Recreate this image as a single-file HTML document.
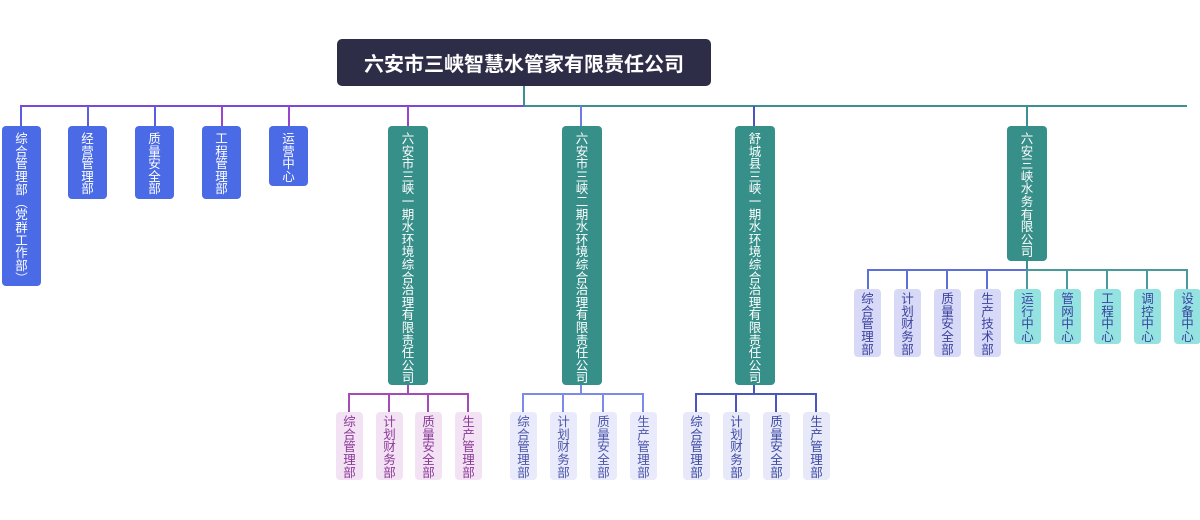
<!DOCTYPE html>
<html><head><meta charset="utf-8"><style>
body{margin:0;width:1200px;height:520px;background:#fff;position:relative;overflow:hidden;font-family:"Liberation Sans","Noto Sans CJK SC",sans-serif}
.b{position:absolute;box-sizing:border-box;border-radius:4px;font-size:12.5px;line-height:12.6px;text-align:center;padding-top:6px;overflow:hidden;font-family:"Noto Sans CJK SC",sans-serif}
.b span{display:inline-block;width:14px;word-break:break-all;white-space:normal}
.L1{background:#4a6ae6;color:#fff}
.T{background:#378f8a;color:#fff}
.c{font-size:12.5px;line-height:12.7px;padding-top:3px}
.c1{background:#f3e2f4;color:#8a3a96}
.c2{background:#e9eafb;color:#4a55a8}
.c3{background:#e7e9f8;color:#3e4aa6}
.c4{background:#d8d9f7;color:#3a43a0}
.c5{background:#94e3e0;color:#3a43a0}
svg{position:absolute;left:0;top:0}
</style></head><body>
<svg width="1200" height="520" fill="none" stroke-width="2">
<line x1="524" y1="86" x2="524" y2="106" stroke="#3d8f96"/>
<line x1="20" y1="106" x2="524" y2="106" stroke="#7a4ad6"/>
<line x1="524" y1="106" x2="1187" y2="106" stroke="#3d8f96"/>
<g stroke="#5b5ee0">
<line x1="21" y1="106" x2="21" y2="126"/><line x1="88" y1="106" x2="88" y2="126"/><line x1="155" y1="106" x2="155" y2="126"/>
</g>
<g stroke="#9a44d0"><line x1="222" y1="106" x2="222" y2="126"/><line x1="289" y1="106" x2="289" y2="126"/><line x1="408" y1="106" x2="408" y2="126"/></g>
<line x1="581" y1="106" x2="581" y2="126" stroke="#6d7be8"/>
<line x1="754" y1="106" x2="754" y2="126" stroke="#4a55c0"/>
<line x1="1027" y1="106" x2="1027" y2="126" stroke="#3d8f96"/>
<g stroke="#a54bb5"><line x1="408" y1="385" x2="408" y2="394"/><path d="M349 412V394H468V412M389 394V412M428 394V412"/></g>
<g stroke="#7c8ae8"><line x1="581" y1="385" x2="581" y2="394"/><path d="M523 412V394H643V412M563 394V412M603 394V412"/></g>
<g stroke="#4a55c0"><line x1="754" y1="385" x2="754" y2="394"/><path d="M696 412V394H816V412M736 394V412M776 394V412"/></g>
<line x1="1027" y1="261" x2="1027" y2="270" stroke="#3d8f96"/>
<path d="M868 289V270H1027M907 270V289M947 270V289M987 270V289" stroke="#5d6fd8"/>
<path d="M1027 270H1187V289M1027 270V289M1067 270V289M1107 270V289M1147 270V289" stroke="#4a9a9a"/>
</svg>
<div style="position:absolute;left:337px;top:39px;width:374px;height:47px;background:#2e2d47;border-radius:5px;color:#fff;font-size:20px;font-weight:bold;display:flex;align-items:center;justify-content:center">六安市三峡智慧水管家有限责任公司</div>
<div class="b L1" style="left:2px;top:126px;width:39px;height:160px;line-height:12.7px">综<br>合<br>管<br>理<br>部<br>︵<br>党<br>群<br>工<br>作<br>部<br>︶</div>
<div class="b L1" style="left:68px;top:126px;width:39px;height:73px"><span>经营管理部</span></div>
<div class="b L1" style="left:135px;top:126px;width:39px;height:73px"><span>质量安全部</span></div>
<div class="b L1" style="left:202px;top:126px;width:39px;height:73px"><span>工程管理部</span></div>
<div class="b L1" style="left:269px;top:126px;width:39px;height:60px"><span>运营中心</span></div>
<div class="b T" style="left:388px;top:126px;width:40px;height:259px"><span>六安市三峡一期水环境综合治理有限责任公司</span></div>
<div class="b T" style="left:562px;top:126px;width:40px;height:259px"><span>六安市三峡二期水环境综合治理有限责任公司</span></div>
<div class="b T" style="left:735px;top:126px;width:40px;height:259px"><span>舒城县三峡一期水环境综合治理有限责任公司</span></div>
<div class="b T" style="left:1007px;top:126px;width:40px;height:135px"><span>六安三峡水务有限公司</span></div>
<div class="b c c1" style="left:336px;top:412px;width:27px;height:68px"><span>综合管理部</span></div>
<div class="b c c1" style="left:376px;top:412px;width:27px;height:68px"><span>计划财务部</span></div>
<div class="b c c1" style="left:415px;top:412px;width:27px;height:68px"><span>质量安全部</span></div>
<div class="b c c1" style="left:455px;top:412px;width:27px;height:68px"><span>生产管理部</span></div>
<div class="b c c2" style="left:510px;top:412px;width:27px;height:68px"><span>综合管理部</span></div>
<div class="b c c2" style="left:550px;top:412px;width:27px;height:68px"><span>计划财务部</span></div>
<div class="b c c2" style="left:590px;top:412px;width:27px;height:68px"><span>质量安全部</span></div>
<div class="b c c2" style="left:630px;top:412px;width:27px;height:68px"><span>生产管理部</span></div>
<div class="b c c3" style="left:683px;top:412px;width:27px;height:68px"><span>综合管理部</span></div>
<div class="b c c3" style="left:723px;top:412px;width:27px;height:68px"><span>计划财务部</span></div>
<div class="b c c3" style="left:763px;top:412px;width:27px;height:68px"><span>质量安全部</span></div>
<div class="b c c3" style="left:803px;top:412px;width:27px;height:68px"><span>生产管理部</span></div>
<div class="b c c4" style="left:854px;top:289px;width:27px;height:68px"><span>综合管理部</span></div>
<div class="b c c4" style="left:894px;top:289px;width:27px;height:68px"><span>计划财务部</span></div>
<div class="b c c4" style="left:934px;top:289px;width:27px;height:68px"><span>质量安全部</span></div>
<div class="b c c4" style="left:974px;top:289px;width:27px;height:68px"><span>生产技术部</span></div>
<div class="b c c5" style="left:1014px;top:289px;width:27px;height:55px"><span>运行中心</span></div>
<div class="b c c5" style="left:1054px;top:289px;width:27px;height:55px"><span>管网中心</span></div>
<div class="b c c5" style="left:1094px;top:289px;width:27px;height:55px"><span>工程中心</span></div>
<div class="b c c5" style="left:1134px;top:289px;width:27px;height:55px"><span>调控中心</span></div>
<div class="b c c5" style="left:1174px;top:289px;width:27px;height:55px"><span>设备中心</span></div>
</body></html>
